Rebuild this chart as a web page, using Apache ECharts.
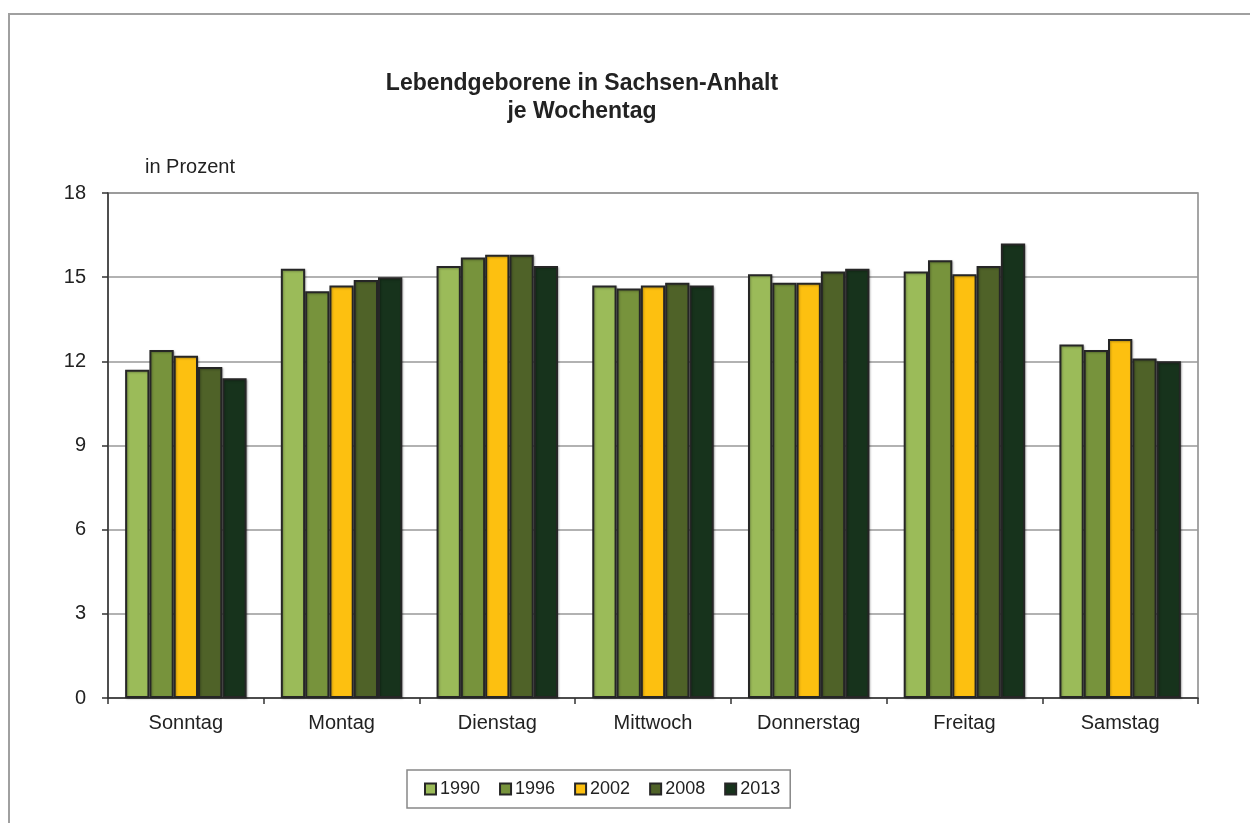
<!DOCTYPE html>
<html>
<head>
<meta charset="utf-8">
<title>Lebendgeborene in Sachsen-Anhalt je Wochentag</title>
<script src="https://cdn.jsdelivr.net/npm/echarts@6/dist/echarts.min.js"></script>
<style>
  html, body { margin: 0; padding: 0; background: #fff; }
  #chart { width: 1250px; height: 823px; }
</style>
</head>
<body>
<div id="chart"></div>
<script>
// Wochentage und Anteile der Lebendgeborenen (in Prozent)
const days = ['Sonntag', 'Montag', 'Dienstag', 'Mittwoch', 'Donnerstag', 'Freitag', 'Samstag'];
const years = ['1990', '1996', '2002', '2008', '2013'];
const v1990 = [11.7, 15.3, 15.4, 14.7, 15.1, 15.2, 12.6];
const v1996 = [12.4, 14.5, 15.7, 14.6, 14.8, 15.6, 12.4];
const v2002 = [12.2, 14.7, 15.8, 14.7, 14.8, 15.1, 12.8];
const v2008 = [11.8, 14.9, 15.8, 14.8, 15.2, 15.4, 12.1];
const v2013 = [11.4, 15.0, 15.4, 14.7, 15.3, 16.2, 12.0];
const yTicks = [0, 3, 6, 9, 12, 15, 18];

const colors = ['#9bbb59', '#77933c', '#fdc010', '#4f6228', '#17331c'];
const values = [v1990, v1996, v2002, v2008, v2013];
const font = '"Liberation Sans", Arial, sans-serif';

const chart = echarts.init(document.getElementById('chart'));

const option = {
  animation: false,
  textStyle: { fontFamily: font },
  title: {
    text: 'Lebendgeborene in Sachsen-Anhalt\nje Wochentag',
    left: 577,
    textAlign: 'center',
    top: 65,
    textStyle: { fontSize: 23, fontWeight: 'bold', color: '#222', lineHeight: 28, fontFamily: font }
  },
  graphic: [
    {
      type: 'rect',
      shape: { x: 9, y: 14, width: 1400, height: 1000 },
      style: { fill: 'none', stroke: '#a0a0a0', lineWidth: 2 }
    },
    {
      type: 'text',
      left: 145,
      top: 157,
      style: { text: 'in Prozent', fontSize: 20, fill: '#222', fontFamily: font }
    }
  ],
  legend: {
    data: years,
    icon: 'rect',
    left: 407,
    top: 770,
    padding: [10, 10, 10, 17],
    borderColor: '#888',
    borderWidth: 1.5,
    itemWidth: 11,
    itemHeight: 11,
    itemGap: 19,
    textStyle: { fontSize: 18, color: '#222', padding: [0, 0, 0, -1] }
  },
  grid: {
    left: 108,
    right: 52,
    top: 193,
    bottom: 125,
    show: true,
    borderColor: '#888',
    borderWidth: 1.5
  },
  xAxis: {
    type: 'category',
    data: days,
    axisLine: { lineStyle: { color: '#333', width: 1.5 } },
    axisTick: { show: true, length: 6, lineStyle: { color: '#333', width: 1.5 } },
    axisLabel: { fontSize: 20, color: '#222', margin: 15 }
  },
  yAxis: {
    type: 'value',
    min: yTicks[0],
    max: yTicks[yTicks.length - 1],
    interval: 3,
    axisLine: { show: true, lineStyle: { color: '#333', width: 1.5 } },
    axisTick: { show: true, length: 6, lineStyle: { color: '#333', width: 1.5 } },
    axisLabel: { fontSize: 20, color: '#222', margin: 22 },
    splitLine: { lineStyle: { color: '#999', width: 1.5 } }
  },
  series: years.map((y, i) => ({
    name: y,
    type: 'bar',
    data: values[i],
    barGap: '0%',
    barCategoryGap: '22%',
    itemStyle: {
      color: colors[i],
      borderColor: '#262626',
      borderWidth: 2,
      shadowColor: 'rgba(0,0,0,0.25)',
      shadowBlur: 2,
      shadowOffsetX: 1,
      shadowOffsetY: 1
    }
  }))
};

chart.setOption(option);
</script>
</body>
</html>
